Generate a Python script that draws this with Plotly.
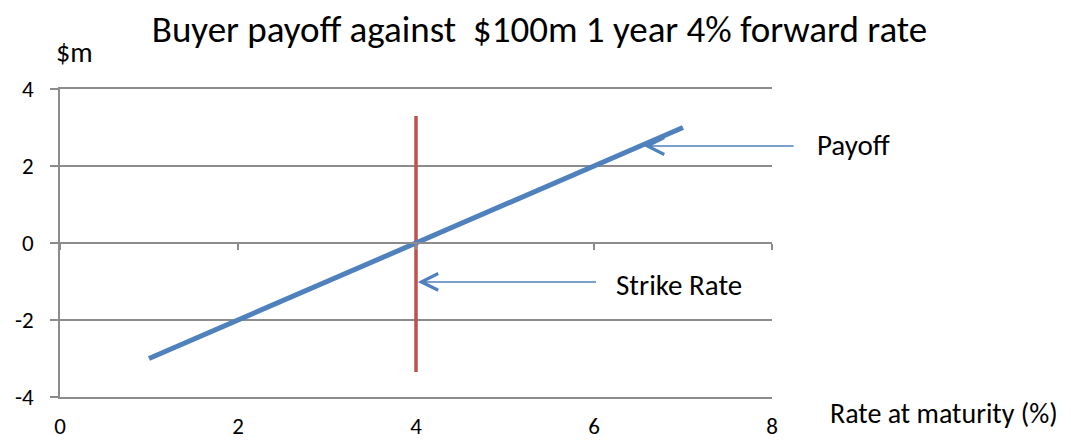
import plotly.graph_objects as go

# payoff line (rate at maturity %, $m)
rate = [1, 7]
payoff = [-3, 3]

# strike marker
strike_x = [4, 4]
strike_y = [3.3, -3.35]

x_ticks = [0, 2, 4, 6, 8]
y_ticks = [-4, -2, 0, 2, 4]
y_labels = ["-4", "-2", "0", "2", "4"]

FONT = "Carlito, Calibri, Lato, sans-serif"
GRID = "#8c8c8c"
TICKFONT = dict(family=FONT, size=23, color="#000000")

fig = go.Figure()
fig.add_trace(go.Scatter(
    x=strike_x, y=strike_y, mode="lines",
    line=dict(color="#c0504d", width=3.5),
    hoverinfo="skip", showlegend=False,
))
fig.add_trace(go.Scatter(
    x=rate, y=payoff, mode="lines",
    line=dict(color="#4f81bd", width=5),
    showlegend=False,
))

# axis at y=0 carrying the x ticks (no labels)
fig.add_trace(go.Scatter(x=[None], y=[None], xaxis="x2", showlegend=False))

# page has an 8px body margin, so the figure is a bit smaller than the window
fig.update_layout(
    width=1063, height=435,
    margin=dict(l=52, r=299, t=81, b=46),
    paper_bgcolor="white", plot_bgcolor="white",
    font=dict(family=FONT, size=21, color="#000000"),
    title=dict(text="Buyer payoff against  $100m 1 year 4% forward rate",
               x=0.5, xanchor="center", y=0.952, yanchor="middle",
               font=dict(size=37, family=FONT)),
    xaxis=dict(range=[0, 8], tickvals=x_ticks, showgrid=False, zeroline=False,
               showline=True, linecolor=GRID, linewidth=1.5, mirror=True,
               ticks="", ticklabelstandoff=8, tickfont=TICKFONT,
               automargin=False, fixedrange=True),
    xaxis2=dict(range=[0, 8], tickvals=x_ticks, overlaying="x", anchor="free",
                position=0.5, side="bottom", showline=True, linecolor=GRID,
                linewidth=1.5, ticks="outside", ticklen=6, tickcolor=GRID,
                tickwidth=1.5, showticklabels=False, showgrid=False,
                zeroline=False, automargin=False),
    yaxis=dict(range=[-4, 4], tickvals=y_ticks, ticktext=y_labels,
               showgrid=True, gridcolor=GRID,
               gridwidth=1.5, zeroline=False, showline=True, linecolor=GRID,
               linewidth=1.5, ticks="outside", ticklen=8, tickcolor=GRID,
               tickwidth=1.5, ticklabelstandoff=12, tickfont=TICKFONT,
               automargin=False, fixedrange=True),
)

# arrows
fig.add_annotation(x=6.56, y=2.52, ax=8.26, ay=2.52, xref="x", yref="y",
                   axref="x", ayref="y", text="", showarrow=True,
                   arrowhead=5, arrowsize=2.2, arrowwidth=1.5,
                   arrowcolor="#4f81bd", standoff=0)
fig.add_annotation(x=4.02, y=-1.01, ax=6.04, ay=-1.01, xref="x", yref="y",
                   axref="x", ayref="y", text="", showarrow=True,
                   arrowhead=5, arrowsize=2.2, arrowwidth=1.5,
                   arrowcolor="#4f81bd", standoff=0)

fig.add_annotation(x=1.06, y=2.55, xref="paper", yref="y", text="Payoff",
                   showarrow=False, xanchor="left", font=dict(size=29))
fig.add_annotation(x=6.23, y=-1.08, xref="x", yref="y", text="Strike Rate",
                   showarrow=False, xanchor="left", font=dict(size=29))

# axis titles
fig.add_annotation(x=0.021, y=1.12, xref="paper", yref="paper", text="$m",
                   showarrow=False, xanchor="center", yanchor="middle",
                   font=dict(size=28))
fig.add_annotation(x=1.078, y=-0.052, xref="paper", yref="paper",
                   text="Rate at maturity (%)", showarrow=False,
                   xanchor="left", yanchor="middle", font=dict(size=28))

fig.write_html("out.html")
